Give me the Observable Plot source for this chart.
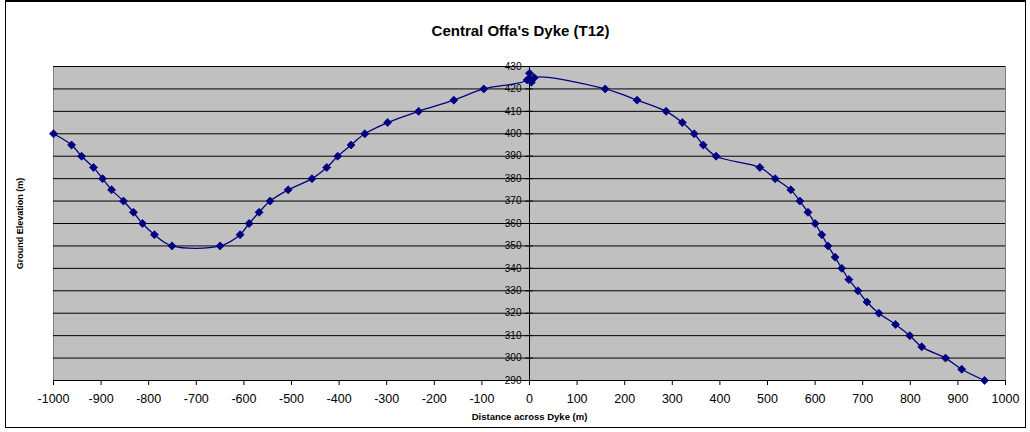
<!DOCTYPE html>
<html>
<head>
<meta charset="utf-8">
<script src="https://cdn.jsdelivr.net/npm/d3@7"></script>
<script src="https://cdn.jsdelivr.net/npm/@observablehq/plot@0.6"></script>
<style>
  html, body { margin: 0; padding: 0; background: #fff; }
  #wrap { position: relative; width: 1030px; height: 432px; }
  #border { position: absolute; left: 5px; top: 0px; width: 1021px; height: 428px; border: 1px solid #000; border-top-width: 2px; box-sizing: border-box; pointer-events: none; }
  #chart { position: absolute; left: 0; top: 0; }
</style>
</head>
<body>
<div id="wrap"><div id="chart"></div><div id="border"></div></div>
<script>
const title = "Central Offa's Dyke (T12)";
const xLabel = "Distance across Dyke (m)";
const yLabel = "Ground Elevation (m)";

// distance across dyke (m)
const distance = [
  -1000, -962, -941, -916, -897, -878, -853, -832, -813, -788,
  -751, -650, -608, -589, -568, -545, -507, -457, -426, -403,
  -375, -346, -298, -233, -159, -96, -5, 0, 4, 10,
  159, 226, 287, 321, 346, 365, 392, 484, 516, 549,
  568, 585, 600, 614, 627, 642, 656, 671, 690, 709,
  734, 769, 799, 824, 874, 908, 956
];
// ground elevation (m)
const elevation = [
  400, 395, 390, 385, 380, 375, 370, 365, 360, 355,
  350, 350, 355, 360, 365, 370, 375, 380, 385, 390,
  395, 400, 405, 410, 415, 420, 424, 427, 423, 425,
  420, 415, 410, 405, 400, 395, 390, 385, 380, 375,
  370, 365, 360, 355, 350, 345, 340, 335, 330, 325,
  320, 315, 310, 305, 300, 295, 290
];
const xTicks = d3.range(-1000, 1001, 100);
const yTicks = d3.range(290, 431, 10);

const data = distance.map((d, i) => ({x: d, y: elevation[i]}));

const chart = Plot.plot({
  width: 1030,
  height: 432,
  marginLeft: 53,
  marginRight: 25,
  marginTop: 66,
  marginBottom: 52,
  style: {fontFamily: "Liberation Sans, Arial, sans-serif", background: "transparent"},
  x: {domain: [-1000, 1000], axis: null},
  y: {domain: [290, 430], axis: null},
  marks: [
    Plot.frame({fill: "#C0C0C0", stroke: "#808080"}),
    Plot.ruleY(yTicks.slice(1), {stroke: "#000", strokeWidth: 1}),
    // y axis crossing at x = 0
    Plot.ruleX([0], {y1: 290, y2: 430, stroke: "#000", strokeWidth: 1}),
    Plot.ruleY(yTicks, {x1: -8, x2: 8, stroke: "#000"}),
    Plot.text(yTicks, {x: 0, y: d => d, text: d => String(d), dx: -8, textAnchor: "end", fontSize: 10, fill: "#000"}),
    // x axis
    Plot.ruleY([290], {stroke: "#000", strokeWidth: 1}),
    Plot.axisX({ticks: xTicks, tickFormat: d => String(d), tickSize: 5, tickPadding: 9, fontSize: 12.5, label: null, stroke: "#000", color: "#000"}),
    // series
    Plot.line(data, {x: "x", y: "y", stroke: "#000080", strokeWidth: 1.3, curve: "catmull-rom"}),
    Plot.dot(data, {x: "x", y: "y", symbol: d3.symbolDiamond2, r: 3.6, fill: "#000080", stroke: "#000080", strokeWidth: 0.8}),
    // texts
    Plot.text([title], {frameAnchor: "top", dx: -9, dy: -41, fontSize: 15, fontWeight: "bold", fill: "#000"}),
    Plot.text([xLabel], {frameAnchor: "bottom", dy: 39, fontSize: 9.5, fontWeight: "bold", fill: "#000"}),
    Plot.text([yLabel], {frameAnchor: "left", dx: -33, rotate: -90, textAnchor: "middle", fontSize: 9, fontWeight: "bold", fill: "#000"})
  ]
});
document.getElementById("chart").appendChild(chart);
</script>
</body>
</html>
